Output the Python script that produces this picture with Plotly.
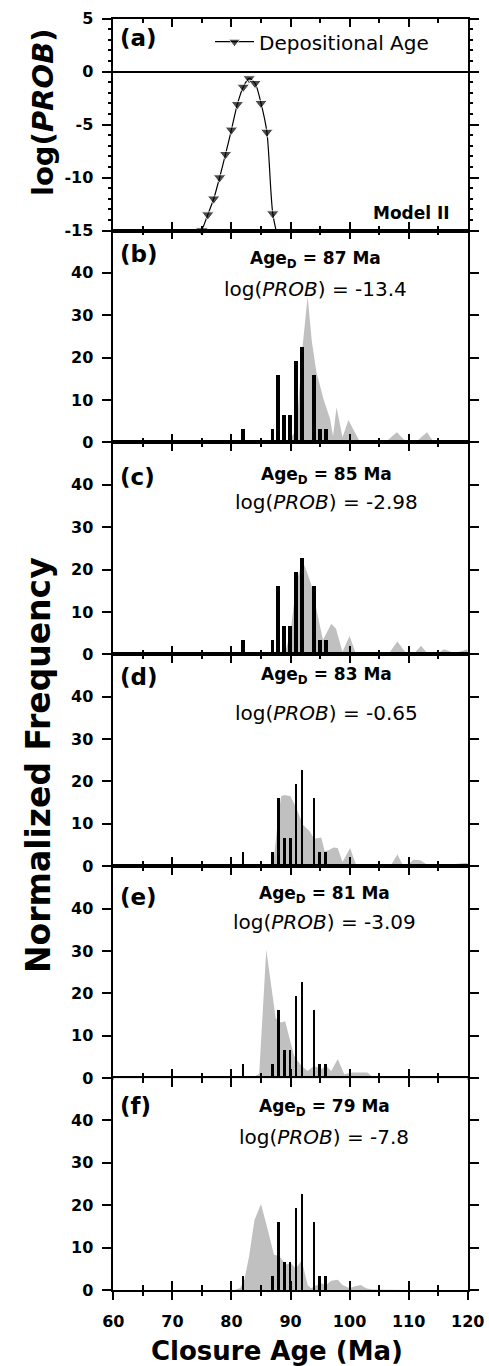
import plotly.graph_objects as go

# ------------------------------------------------------------------ data
# panel (a): log probability vs depositional age
dep_age = [75, 76, 77, 78, 79, 80, 81, 82, 83, 84, 85, 86, 87, 88]
log_prob = [-15.0, -13.5, -12.0, -10.0, -7.8, -5.5, -3.09, -1.45, -0.65, -1.1, -2.98, -5.7, -13.4, -16.0]

# observed closure-age distribution (black bars, same in panels b-f)
closure_age = [82, 87, 88, 89, 90, 91, 92, 94, 95, 96]
observed_freq = [3.2, 3.2, 16.1, 6.5, 6.5, 19.4, 22.6, 16.1, 3.2, 3.2]

# modelled distributions (grey areas)
model_x_b = [89.5, 91.0, 92.0, 92.9, 93.6, 94.4, 95.6, 96.7, 97.2, 97.8, 98.8, 99.8, 101.8,
             106.0, 108.0, 109.7, 111.1, 113.1, 114.3, 120.0]
model_y_b = [0, 3, 22, 34.5, 24, 16.5, 10.2, 5.5, 1.5, 8.3, 1.2, 5.3, 0,
             0, 2.4, 0, 0, 2.4, 0, 0]

model_x_c = [89.0, 90.0, 91.0, 92.0, 92.5, 93.5, 94.4, 95.5, 96.9, 97.7, 98.8, 100.0, 101.0,
             103.0, 105.0, 106.7, 108.1, 109.6, 111.0, 112.1, 113.2, 115.0, 116.0, 117.5, 118.6, 120.0]
model_y_c = [0, 5, 17, 22, 20.5, 16.5, 10.5, 3.4, 7.2, 6.0, 0.6, 4.3, 0.4,
             0.3, 0.2, 0.3, 3.0, 0.2, 0.3, 2.0, 0.2, 0.3, 1.2, 0.4, 0.6, 1.2]

model_x_d = [86.5, 87.2, 87.8, 88.4, 89.0, 90.0, 90.9, 92.1, 93.2, 94.0, 95.2, 95.8, 96.6, 97.3,
             98.0, 98.8, 100.1, 101.1, 104.0, 107.0, 108.1, 109.0, 110.0, 110.8, 112.0, 113.2,
             116.0, 118.0, 120.0]
model_y_d = [0, 2, 10, 16.5, 16.8, 16.5, 14.0, 9.8, 8.3, 6.5, 6.8, 3.5, 3.9, 4.4,
             4.3, 1.0, 4.3, 0.3, 0.2, 0.2, 2.8, 0.3, 0.5, 1.5, 1.4, 0.3,
             0.3, 0.5, 0.8]

model_x_e = [80.0, 81.5, 84.0, 84.7, 85.9, 87.5, 88.4, 89.1, 89.9, 90.6, 91.8, 92.9, 94.0,
             95.2, 96.0, 96.9, 98.0, 99.1, 100.5, 103.0, 104.0, 110.0, 120.0]
model_y_e = [0, 0.2, 0.4, 1.0, 30.3, 14.1, 13.1, 13.4, 9.0, 5.3, 3.0, 1.7, 2.9,
             2.1, 2.9, 1.7, 4.5, 0.9, 1.3, 1.3, 0.2, 0.1, 0.1]

model_x_f = [80.5, 81.5, 82.2, 83.0, 83.9, 85.0, 86.2, 87.2, 88.1, 89.2, 90.1, 90.9, 91.9,
             92.9, 93.5, 94.2, 95.2, 96.0, 96.9, 98.0, 98.8, 100.0, 100.8, 101.9, 102.8,
             103.9, 110.0, 120.0]
model_y_f = [0, 0.5, 2.5, 8.0, 16.5, 20.3, 14.0, 8.3, 8.0, 6.0, 6.3, 5.0, 7.0,
             1.2, 0.4, 1.0, 1.6, 1.2, 2.2, 2.4, 1.2, 0.4, 0.8, 1.2, 0.4,
             0.1, 0, 0]

panel_age_d = [87, 85, 83, 81, 79]
panel_log_prob = ["-13.4", "-2.98", "-0.65", "-3.09", "-7.8"]
panel_letters = ["(a)", "(b)", "(c)", "(d)", "(e)", "(f)"]

x_ticks = [60, 70, 80, 90, 100, 110, 120]
x_tick_labels = ["60", "70", "80", "90", "100", "110", "120"]
x_minor_ticks = [65, 75, 85, 95, 105, 115]
freq_ticks = [0, 10, 20, 30, 40]
freq_tick_labels = ["0", "10", "20", "30", "40"]
logp_ticks = [5, 0, -5, -10, -15]
logp_tick_labels = ["5", "0", "-5", "-10", "-15"]
logp_minor_ticks = [v for v in range(-14, 5) if v % 5 != 0]

# ------------------------------------------------------------------ layout helpers
W, H = 489, 1366
L, R = 113.3, 467.7
TOP, BOT = 18.6, 1290.0
NP = 6
PH = (BOT - TOP) / NP
FONT = "DejaVu Sans"
GREY = "#c0c0c0"


def fy(p):
    return 1 - p / H


def fx(p):
    return p / W


model_x = [model_x_b, model_x_c, model_x_d, model_x_e, model_x_f]
model_y = [model_y_b, model_y_c, model_y_d, model_y_e, model_y_f]
bar_widths = [0.65, 0.65, 0.45, 0.42, 0.42]

fig = go.Figure()

# panel (a)
marker_sizes = [11] * (len(dep_age) - 1) + [0]
fig.add_trace(go.Scatter(
    x=dep_age, y=log_prob, mode="lines+markers", name="Depositional Age",
    line=dict(color="black", width=1.2, shape="spline", smoothing=0.8),
    marker=dict(symbol="triangle-down", size=marker_sizes, color="black"),
    cliponaxis=False, xaxis="x", yaxis="y", showlegend=True))

# panels (b)-(f): grey model area on base axis, black bars on an overlaid axis (drawn on top)
for i in range(5):
    xa = "x%d" % (i + 2)
    ya = "y%d" % (i + 2)
    yb = "y%d" % (i + 8)
    fig.add_trace(go.Scatter(
        x=model_x[i], y=model_y[i], mode="lines", fill="tozeroy",
        fillcolor=GREY, line=dict(color=GREY, width=0),
        xaxis=xa, yaxis=ya, showlegend=False, hoverinfo="skip"))
    fig.add_trace(go.Bar(
        x=closure_age, y=observed_freq, width=bar_widths[i],
        marker=dict(color="black", line=dict(width=0)),
        xaxis=xa, yaxis=yb, showlegend=False))

# empty trace to carry the outside tick axis below panel (f)
fig.add_trace(go.Scatter(x=[], y=[], xaxis="x7", yaxis="y6", showlegend=False, hoverinfo="skip"))

tickfont = dict(family=FONT, size=16, color="black", weight="bold")

layout = dict(
    width=W, height=H, margin=dict(l=0, r=0, t=0, b=0),
    paper_bgcolor="white", plot_bgcolor="white",
    font=dict(family=FONT, color="black"),
    bargap=0,
    legend=dict(x=fx(210), y=fy(41.7), xanchor="left", yanchor="middle",
                bgcolor="rgba(0,0,0,0)", font=dict(family=FONT, size=20, color="black"),
                itemwidth=39, tracegroupgap=0),
)

for i in range(NP):
    top = TOP + i * PH
    bot = top + PH
    xname = "xaxis" if i == 0 else "xaxis%d" % (i + 1)
    yname = "yaxis" if i == 0 else "yaxis%d" % (i + 1)
    xid = "x" if i == 0 else "x%d" % (i + 1)
    yid = "y" if i == 0 else "y%d" % (i + 1)
    layout[xname] = dict(
        domain=[fx(L), fx(R)], anchor=yid, range=[60, 120],
        tickvals=x_ticks, ticks="inside", ticklen=9, tickwidth=1.5, tickcolor="black",
        minor=dict(tickvals=x_minor_ticks, ticks="inside", ticklen=5, tickwidth=1.5,
                   tickcolor="black", showgrid=False),
        showline=True, linecolor="black", linewidth=1.5, mirror="ticks",
        showgrid=False, zeroline=False, showticklabels=False, automargin=False)
    if i == 0:
        yax = dict(range=[-15, 5], tickvals=logp_ticks, ticktext=logp_tick_labels,
                   minor=dict(tickvals=logp_minor_ticks, ticks="outside", ticklen=4,
                              tickwidth=1.5, tickcolor="black", showgrid=False),
                   zeroline=True, zerolinecolor="black", zerolinewidth=1.5)
    else:
        yax = dict(range=[0, 50], tickvals=freq_ticks, ticktext=freq_tick_labels, zeroline=False)
        # overlay axis for the bars
        layout["yaxis%d" % (i + 7)] = dict(
            overlaying=yid, anchor=xid, range=[0, 50], visible=False,
            showgrid=False, zeroline=False)
    yax.update(dict(
        domain=[fy(bot), fy(top)], anchor=xid,
        ticks="outside", ticklen=10, tickwidth=1.5, tickcolor="black",
        showline=True, linecolor="black", linewidth=1.5, mirror="ticks",
        showgrid=False, tickfont=tickfont, ticklabelstandoff=5, automargin=False))
    layout[yname] = yax

layout["xaxis7"] = dict(
    overlaying="x6", anchor="y6", side="bottom", range=[60, 120],
    tickvals=x_ticks, ticktext=x_tick_labels, ticks="outside", ticklen=9, tickwidth=1.5,
    tickcolor="black",
    minor=dict(tickvals=x_minor_ticks, ticks="outside", ticklen=5, tickwidth=1.5,
               tickcolor="black", showgrid=False),
    showline=False, showgrid=False, zeroline=False, showticklabels=True,
    tickfont=tickfont, ticklabelstandoff=8, automargin=False)

fig.update_layout(**layout)

ann = []
letter_y = [38.5, 254, 477, 677, 897, 1106]
for i, t in enumerate(panel_letters):
    ann.append(dict(x=fx(118), y=fy(letter_y[i]), xref="paper", yref="paper",
                    xanchor="left", yanchor="middle", text=t, showarrow=False,
                    font=dict(family=FONT, size=23, color="black", weight="bold")))

age_x = [315, 326, 326, 324, 324]
age_y = [259, 475, 675, 894, 1107]
lp_y = [289, 502, 713, 922, 1137]
for i in range(5):
    ann.append(dict(x=fx(age_x[i]), y=fy(age_y[i]), xref="paper", yref="paper",
                    xanchor="center", yanchor="middle",
                    text="Age<sub>D</sub> = %d Ma" % panel_age_d[i], showarrow=False,
                    font=dict(family=FONT, size=17, color="black", weight="bold")))
    ann.append(dict(x=fx(age_x[i]), y=fy(lp_y[i]), xref="paper", yref="paper",
                    xanchor="center", yanchor="middle",
                    text="log(<i>PROB</i>) = %s" % panel_log_prob[i], showarrow=False,
                    font=dict(family=FONT, size=20, color="black")))

ann.append(dict(x=fx(452), y=fy(212.5), xref="paper", yref="paper", xanchor="right",
                yanchor="middle", text="Model II", showarrow=False,
                font=dict(family=FONT, size=17, color="black", weight="bold")))
ann.append(dict(x=fx(43), y=fy(112), xref="paper", yref="paper", xanchor="center",
                yanchor="middle", text="log(<i>PROB</i>)", textangle=-90, showarrow=False,
                font=dict(family=FONT, size=29, color="black", weight="bold")))
ann.append(dict(x=fx(38), y=fy(765), xref="paper", yref="paper", xanchor="center",
                yanchor="middle", text="Normalized Frequency", textangle=-90, showarrow=False,
                font=dict(family=FONT, size=33, color="black", weight="bold")))
ann.append(dict(x=fx(277), y=fy(1351), xref="paper", yref="paper", xanchor="center",
                yanchor="middle", text="Closure Age (Ma)", showarrow=False,
                font=dict(family=FONT, size=26, color="black", weight="bold")))

fig.update_layout(annotations=ann)

fig.write_html("out.html")
